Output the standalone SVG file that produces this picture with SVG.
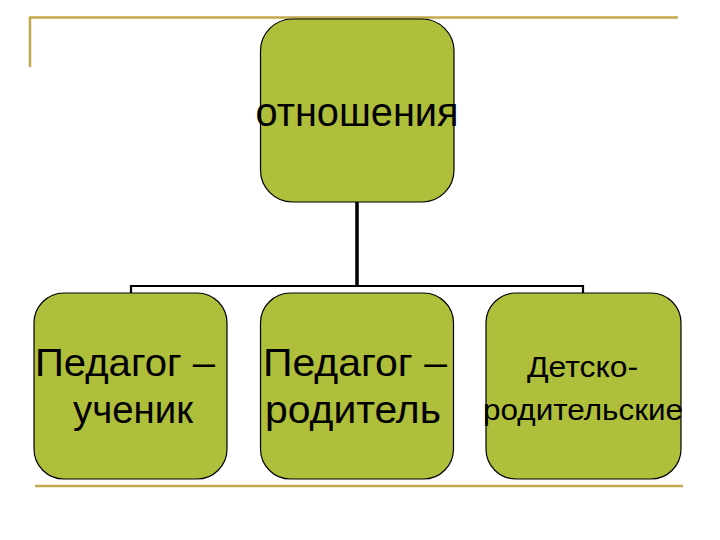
<svg xmlns="http://www.w3.org/2000/svg" width="720" height="540" viewBox="0 0 720 540">
<style>
.node{fill:#AFBE3B;stroke:#000;stroke-width:1.2}
.t{font-family:"Liberation Sans",Arial,sans-serif;fill:#000;text-anchor:middle}
.gold{stroke:#C4A94E;stroke-width:2.5;fill:none}
.c{stroke:#000;fill:none}
</style>
<rect width="720" height="540" fill="#fff"/>
<path class="gold" d="M30,67 V17.5 H678"/>
<path class="gold" d="M35,486 H683"/>
<g id="connectors">
<path class="c" stroke-width="3.5" d="M357,202 V286"/>
<path class="c" stroke-width="2.2" d="M131,294 V286 H583 V294"/>
</g>
<g id="n-root">
<rect class="node" x="260.5" y="19" width="193.5" height="183" rx="32"/>
<text class="t" x="357" y="126" font-size="40" textLength="203" lengthAdjust="spacingAndGlyphs">отношения</text>
</g>
<g id="n-teacher-student">
<rect class="node" x="34" y="293" width="193" height="186" rx="30"/>
<text class="t" x="125" y="376" font-size="39" textLength="180" lengthAdjust="spacingAndGlyphs">Педагог –</text>
<text class="t" x="133" y="423" font-size="39" textLength="120" lengthAdjust="spacingAndGlyphs">ученик</text>
</g>
<g id="n-teacher-parent">
<rect class="node" x="260.5" y="293" width="193" height="186" rx="30"/>
<text class="t" x="355" y="376" font-size="39" textLength="184" lengthAdjust="spacingAndGlyphs">Педагог –</text>
<text class="t" x="353" y="423" font-size="39" textLength="176" lengthAdjust="spacingAndGlyphs">родитель</text>
</g>
<g id="n-child-parent">
<rect class="node" x="486" y="293" width="195" height="186" rx="30"/>
<text class="t" x="582.5" y="377" font-size="29" textLength="111" lengthAdjust="spacingAndGlyphs">Детско-</text>
<text class="t" x="583" y="420" font-size="29" textLength="200" lengthAdjust="spacingAndGlyphs">родительские</text>
</g>
</svg>
